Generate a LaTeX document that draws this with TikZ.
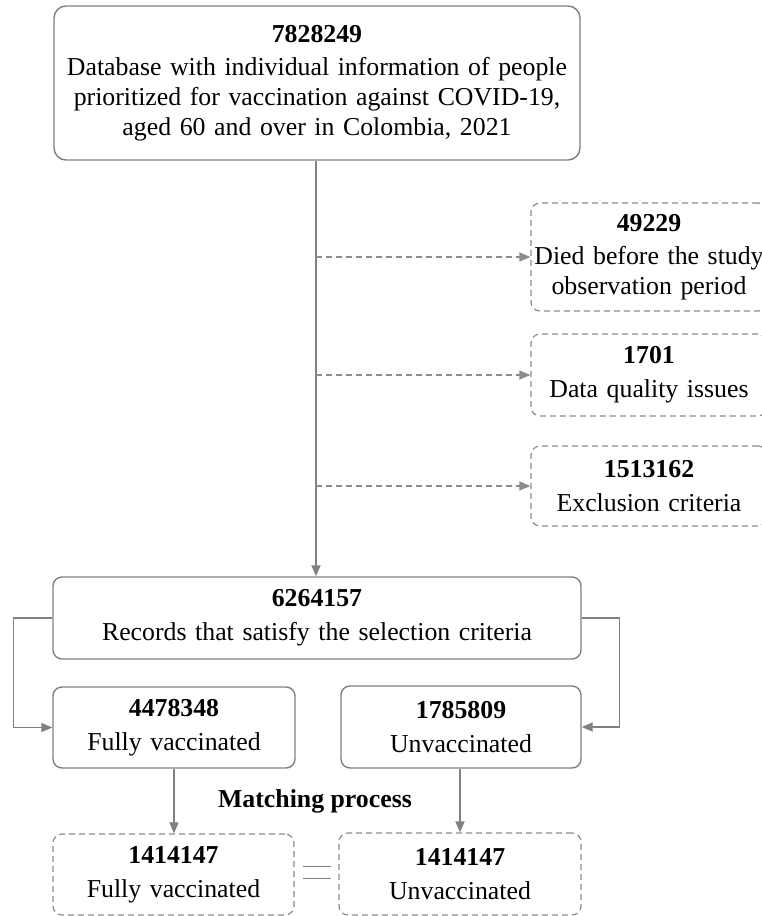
\documentclass[tikz,border=0pt]{standalone}
\usepackage{fontspec}
\setmainfont{Liberation Serif}
\usetikzlibrary{arrows.meta,calc}

\definecolor{linegray}{RGB}{128,128,128}
\definecolor{dashgray}{RGB}{140,140,140}

% bold count followed by a slightly wider gap
\newcommand{\countline}[1]{\textbf{#1}\\[4pt]}

\tikzset{
  txt/.style={font=\fontsize{25.8}{29.7}\selectfont, text=black, align=center, inner sep=0pt},
  solidbox/.style={txt, draw=linegray, line width=1.4pt, rounded corners=9pt},
  dashbox/.style={txt, draw=dashgray, line width=1.2pt, rounded corners=9pt, dash pattern=on 6pt off 4pt},
  conn/.style={draw=linegray, line width=1.4pt, -{Triangle[length=11pt,width=9pt]}},
  dashconn/.style={draw=dashgray, line width=1.2pt, dash pattern=on 6pt off 4pt, -{Triangle[length=11pt,width=9pt]}},
}

\begin{document}
\begin{tikzpicture}[x=1pt,y=-1pt]
\useasboundingbox (0,0) rectangle (762,916);
\clip (0,0) rectangle (762,916);

% source database
\node[solidbox, rounded corners=12pt, minimum width=526pt, minimum height=154pt, text width=520pt] (top) at (317,83)
  {\countline{7828249}Database with individual information of people\\prioritized for vaccination against COVID-19,\\aged 60 and over in Colombia, 2021};

% exclusions
\node[dashbox, minimum width=236pt, minimum height=108pt, text width=232pt] (ex1) at (649,257)
  {\countline{49229}Died before the study\\observation period};
\node[dashbox, minimum width=236pt, minimum height=82pt, text width=232pt] (ex2) at (649,375)
  {\countline{1701}Data quality issues};
\node[dashbox, minimum width=236pt, minimum height=80pt, text width=232pt] (ex3) at (649,486)
  {\countline{1513162}Exclusion criteria};

% selected records
\node[solidbox, minimum width=528pt, minimum height=82pt, text width=520pt] (sel) at (317,618)
  {\countline{6264157}Records that satisfy the selection criteria};

% groups
\node[solidbox, minimum width=242pt, minimum height=81pt, text width=236pt] (fv) at (174,727.5)
  {\countline{4478348}Fully vaccinated};
\node[solidbox, minimum width=240pt, minimum height=82pt, text width=234pt] (uv) at (461,727)
  {\countline{1785809}Unvaccinated};

% matched groups
\node[txt] (match) at (315,801) {\textbf{Matching process}};
\node[dashbox, minimum width=241pt, minimum height=81pt, text width=236pt] (mfv) at (173.5,874.5)
  {\countline{1414147}Fully vaccinated};
\node[dashbox, minimum width=242pt, minimum height=82pt, text width=236pt] (muv) at (460,874)
  {\countline{1414147}Unvaccinated};

% connectors
\draw[conn] (top.south -| 316,0) -- (sel.north -| 316,0);
\draw[dashconn] (ex1.west -| 316,0) -- (ex1.west);
\draw[dashconn] (ex2.west -| 316,0) -- (ex2.west);
\draw[dashconn] (ex3.west -| 316,0) -- (ex3.west);
\draw[conn] (sel.west) -- ++(-39,0) |- (fv.west);
\draw[conn] (sel.east) -- ++(38,0) |- (uv.east);
\draw[conn] (fv.south) -- (fv.south |- mfv.north);
\draw[conn] (uv.south -| 460,0) -- (muv.north -| 460,0);

% equality between matched groups
\coordinate (eq) at ($(mfv.east)!0.5!(muv.west)$);
\draw[linegray, line width=1.4pt] ($(eq)+(-14,-8)$) -- ($(eq)+(14,-8)$);
\draw[linegray, line width=1.4pt] ($(eq)+(-14,4)$) -- ($(eq)+(14,4)$);
\end{tikzpicture}
\end{document}
